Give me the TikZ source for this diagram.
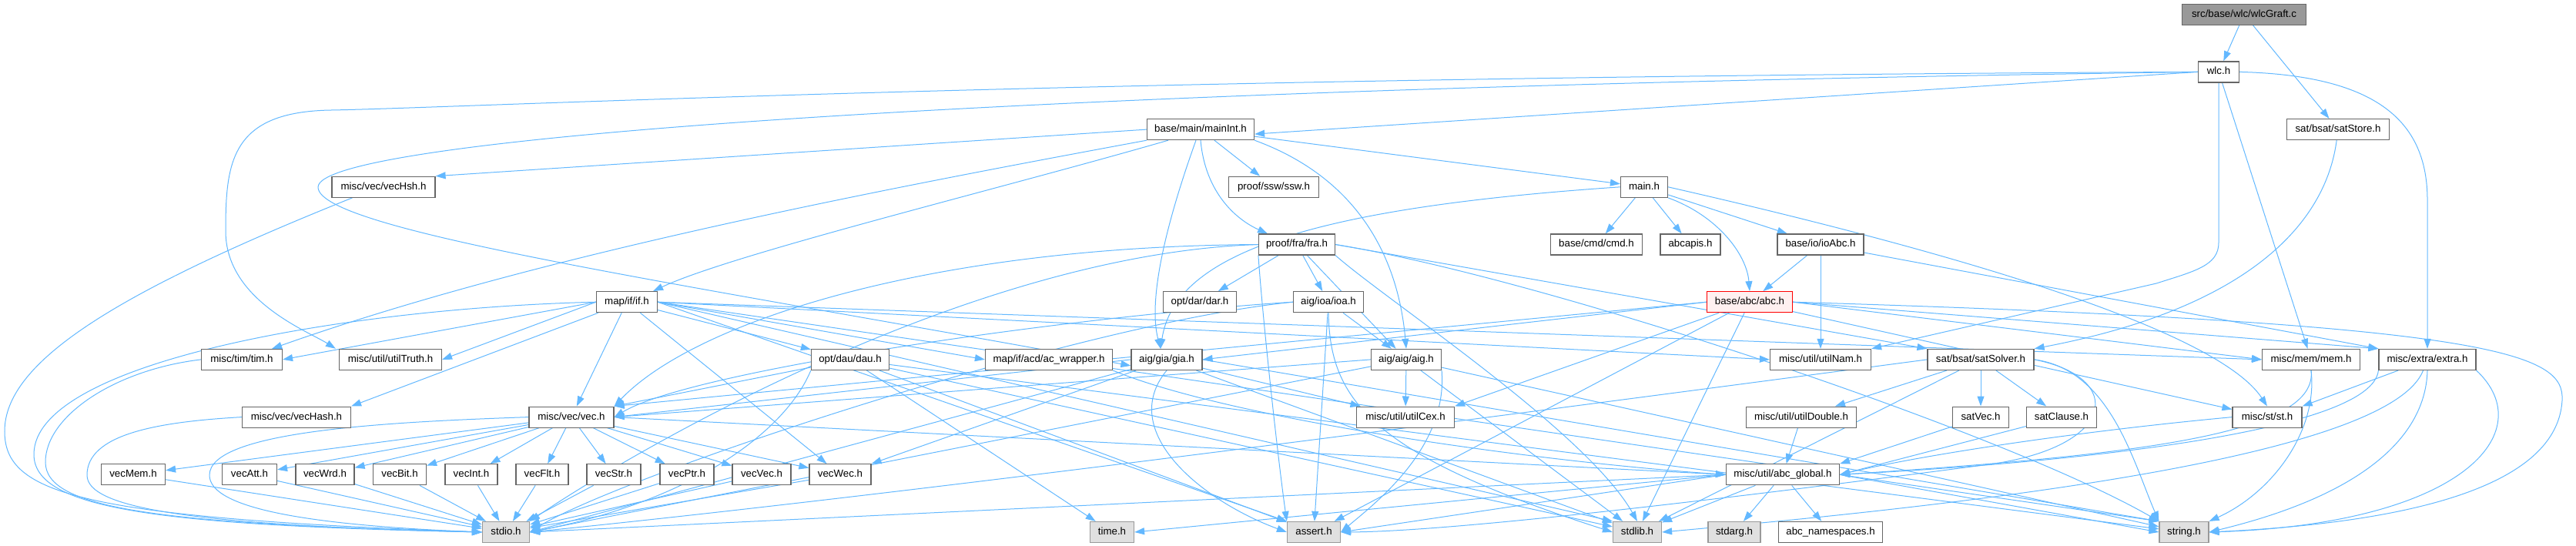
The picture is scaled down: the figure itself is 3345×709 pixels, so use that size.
\documentclass[tikz,border=0pt]{standalone}
\usepackage{fontspec}
\setmainfont{Liberation Sans}
\usetikzlibrary{arrows.meta}
\definecolor{edgeblue}{HTML}{63B8FF}
\definecolor{boxgray}{HTML}{666666}
\definecolor{sysfill}{HTML}{E0E0E0}
\definecolor{sysdraw}{HTML}{999999}
\definecolor{rootfill}{HTML}{999999}
\definecolor{truncfill}{HTML}{FFF0F0}
\pgfdeclarelayer{bg}
\pgfsetlayers{bg,main}
\newcommand\fsz{\fontsize{13.3}{15}\selectfont}
\begin{document}
\begin{tikzpicture}[x=1pt,y=-1pt,
  nd/.style={draw=boxgray, fill=white, line width=1.2pt, minimum height=27pt, inner xsep=1pt, inner ysep=0pt, font=\fsz, text height=9.6pt, text depth=2.7pt, text=black},
  wd/.style={minimum width=#1pt},
  sys/.style={fill=sysfill, draw=sysdraw},
  rootnd/.style={fill=rootfill, draw=boxgray},
  trunc/.style={fill=truncfill, draw=red},
  edge/.style={draw=edgeblue, line width=1pt, -{Triangle[length=13pt,width=9pt]}}]
\useasboundingbox (0,0) rectangle (3345,709);
% row 0-1
\node[nd,wd=161,rootnd] (wlcGraft) at (2914,18.7) {src/base/wlc/wlcGraft.c};
\node[nd,wd=53] (wlc) at (2881,93.4) {wlc.h};
% row 2
\node[nd,wd=139] (mainInt) at (1559,168.1) {base/main/mainInt.h};
\node[nd,wd=133] (satStore) at (3036,168.1) {sat/bsat/satStore.h};
% row 3
\node[nd,wd=134] (vecHsh) at (498,242.8) {misc/vec/vecHsh.h};
\node[nd,wd=117] (ssw) at (1654,242.8) {proof/ssw/ssw.h};
\node[nd,wd=61] (main) at (2135,242.8) {main.h};
% row 4
\node[nd,wd=99] (fra) at (1684,317.5) {proof/fra/fra.h};
\node[nd,wd=119] (cmd) at (2073,317.5) {base/cmd/cmd.h};
\node[nd,wd=78] (abcapis) at (2195,317.5) {abcapis.h};
\node[nd,wd=112] (ioAbc) at (2364,317.5) {base/io/ioAbc.h};
% row 5
\node[nd,wd=79] (ifh) at (814,392.2) {map/if/if.h};
\node[nd,wd=95] (dar) at (1558,392.2) {opt/dar/dar.h};
\node[nd,wd=91] (ioa) at (1725,392.2) {aig/ioa/ioa.h};
\node[nd,wd=111,trunc] (abc) at (2272,392.2) {base/abc/abc.h};
% row 6
\node[nd,wd=105] (tim) at (314,466.9) {misc/tim/tim.h};
\node[nd,wd=133] (utilTruth) at (507,466.9) {misc/util/utilTruth.h};
\node[nd,wd=101] (dau) at (1104,466.9) {opt/dau/dau.h};
\node[nd,wd=165] (acw) at (1362,466.9) {map/if/acd/ac\_wrapper.h};
\node[nd,wd=92] (gia) at (1515,466.9) {aig/gia/gia.h};
\node[nd,wd=91] (aig) at (1826,466.9) {aig/aig/aig.h};
\node[nd,wd=131] (utilNam) at (2364,466.9) {misc/util/utilNam.h};
\node[nd,wd=138] (satSolver) at (2572,466.9) {sat/bsat/satSolver.h};
\node[nd,wd=127] (mem) at (3001,466.9) {misc/mem/mem.h};
\node[nd,wd=126] (extra) at (3152,466.9) {misc/extra/extra.h};
% row 7
\node[nd,wd=141] (vecHash) at (385,541.6) {misc/vec/vecHash.h};
\node[nd,wd=110] (vec) at (742,541.6) {misc/vec/vec.h};
\node[nd,wd=127] (utilCex) at (1825,541.6) {misc/util/utilCex.h};
\node[nd,wd=143] (utilDouble) at (2339,541.6) {misc/util/utilDouble.h};
\node[nd,wd=73] (satVec) at (2572,541.6) {satVec.h};
\node[nd,wd=91] (satClause) at (2677,541.6) {satClause.h};
\node[nd,wd=90] (st) at (2944,541.6) {misc/st/st.h};
% row 8
\node[nd,wd=83] (vecMem) at (173,616.3) {vecMem.h};
\node[nd,wd=71] (vecAtt) at (324,616.3) {vecAtt.h};
\node[nd,wd=76] (vecWrd) at (422,616.3) {vecWrd.h};
\node[nd,wd=69] (vecBit) at (519,616.3) {vecBit.h};
\node[nd,wd=68] (vecInt) at (612,616.3) {vecInt.h};
\node[nd,wd=68] (vecFlt) at (704,616.3) {vecFlt.h};
\node[nd,wd=70] (vecStr) at (797,616.3) {vecStr.h};
\node[nd,wd=70] (vecPtr) at (892,616.3) {vecPtr.h};
\node[nd,wd=76] (vecVec) at (989,616.3) {vecVec.h};
\node[nd,wd=80] (vecWec) at (1091,616.3) {vecWec.h};
\node[nd,wd=147] (abcGlobal) at (2315,616.3) {misc/util/abc\_global.h};
% row 9
\node[nd,wd=61,sys] (stdio) at (657,691) {stdio.h};
\node[nd,wd=57,sys] (timeh) at (1444,691) {time.h};
\node[nd,wd=69,sys] (assert) at (1706,691) {assert.h};
\node[nd,wd=63,sys] (stdlib) at (2126,691) {stdlib.h};
\node[nd,wd=68,sys] (stdarg) at (2252,691) {stdarg.h};
\node[nd,wd=135] (abcNs) at (2377,691) {abc\_namespaces.h};
\node[nd,wd=64,sys] (string) at (2836,691) {string.h};

\begin{pgfonlayer}{bg}
% top
\draw[edge] (wlcGraft) -- (wlc);
\draw[edge] (wlcGraft) -- (satStore);
\draw[edge] (wlc.west) -- ([yshift=-6pt]mainInt.east);
\draw[edge] (wlc.west) .. controls (1300,115) and (413,180) .. (413,243) .. controls (413,300) and (900,370) .. ([yshift=-8pt]gia.west);
\draw[edge] (wlc.west) .. controls (1400,100) and (600,140) .. (430,143) .. controls (300,145) and (293,210) .. (293,300) .. controls (293,390) and (400,430) .. ([xshift=-4pt]utilTruth.north west);
\draw[edge] (wlc.south) -- (2881,315) .. controls (2881,345) and (2850,352) .. (2800,368) -- (utilNam.north east);
\draw[edge] (wlc) -- (mem);
\draw[edge] (wlc.east) .. controls (3090,98) and (3152,160) .. (3152,260) -- (extra);
\draw[edge] (satStore) .. controls (3020,290) and (2920,400) .. (satSolver.north east);
% mainInt
\draw[edge] (mainInt) -- (main);
\draw[edge] (mainInt) -- (ssw);
\draw[edge] (mainInt.south) .. controls (1565,250) and (1605,285) .. ([xshift=-38pt]fra.north);
\draw[edge] (mainInt.west) -- (vecHsh.north east);
\draw[edge] (mainInt.south west) .. controls (1150,245) and (700,330) .. ([xshift=-14pt]tim.north east);
\draw[edge] ([xshift=28pt]mainInt.south west) .. controls (1300,245) and (950,330) .. ([xshift=-6pt]ifh.north east);
\draw[edge] ([xshift=-6pt]mainInt.south) .. controls (1525,260) and (1488,380) .. ([xshift=-8pt]gia.north);
\draw[edge] (mainInt.south east) .. controls (1760,230) and (1815,330) .. (aig.north);
% main
\draw[edge] (main) -- (cmd);
\draw[edge] (main) -- (abcapis);
\draw[edge] (main) -- (ioAbc);
\draw[edge] (main.south east) .. controls (2230,280) and (2268,330) .. (abc.north);
\draw[edge] (main.west) .. controls (1700,270) and (1525,330) .. ([xshift=-8pt]gia.north);
\draw[edge] (main.east) .. controls (2550,330) and (2880,430) .. (st.north);
% fra
\draw[edge] (fra) -- (dar);
\draw[edge] (fra) -- (ioa);
\draw[edge] (fra) -- (aig);
\draw[edge] (fra.east) -- (satSolver.north west);
\draw[edge] (fra.south east) .. controls (1800,390) and (2060,560) .. (stdlib.north);
\draw[edge] (fra.east) .. controls (2000,360) and (2600,560) .. (string.north west);
\draw[edge] (fra.west) .. controls (1200,320) and (900,420) .. (vec.north east);
\draw[edge] (fra.south west) .. controls (1640,420) and (1660,600) .. (assert.north west);
\draw[edge] (fra.west) .. controls (1250,330) and (800,600) .. (stdio.north east);
% ioAbc
\draw[edge] (ioAbc) -- (abc);
\draw[edge] (ioAbc) -- (utilNam);
\draw[edge] (ioAbc) -- (extra.north west);
% ioa
\draw[edge] (ioa) -- (aig);
\draw[edge] (ioa) -- (assert);
\draw[edge] (ioa.south) .. controls (1727,520) and (1780,590) .. (stdlib.west);
\draw[edge] (ioa.west) .. controls (1400,410) and (900,480) .. (vec.east);
\draw[edge] (ioa.west) .. controls (1400,420) and (800,620) .. (stdio.east);
% if
\draw[edge] (ifh.west) -- (tim.east);
\draw[edge] (ifh.west) -- (utilTruth.east);
\draw[edge] (ifh) -- (vecHash.north east);
\draw[edge] (ifh) -- (vec);
\draw[edge] (ifh) -- (vecWec);
\draw[edge] (ifh) -- (dau);
\draw[edge] (ifh.east) -- (acw.west);
\draw[edge] (ifh.east) -- (mem.west);
\draw[edge] (ifh.east) -- (utilNam.west);
\draw[edge] (ifh.east) -- (stdlib.north west);
\draw[edge] (ifh.east) -- (string.north west);
\draw[edge] (ifh.east) -- (assert.north west);
\draw[edge] (ifh.west) .. controls (450,400) and (44,470) .. (44,590) .. controls (44,660) and (200,682) .. (stdio.west);
% dau
\draw[edge] (dau) -- (vec.north east);
\draw[edge] (dau) -- (timeh);
\draw[edge] (dau) -- (assert);
\draw[edge] (dau) -- (stdlib);
\draw[edge] (dau) -- (string);
\draw[edge] (dau.south west) .. controls (1020,560) and (900,650) .. (stdio.east);
% acw
\draw[edge] (acw.south east) .. controls (1600,545) and (2000,600) .. (abcGlobal.west);
% gia
\draw[edge] (gia.west) -- (vec.east);
\draw[edge] (gia) -- (vecWec.north east);
\draw[edge] (gia) -- (utilCex);
\draw[edge] (gia.south) .. controls (1450,560) and (1560,650) .. (assert.west);
\draw[edge] (gia) -- (stdlib);
\draw[edge] (gia.east) -- (string.north west);
\draw[edge] (gia) -- (stdio.east);
% aig
\draw[edge] (aig) -- (utilCex);
\draw[edge] (aig.west) -- (vec.east);
\draw[edge] (aig) -- (stdio.east);
\draw[edge] (aig) -- (stdlib);
\draw[edge] (aig) -- (string);
\draw[edge] (aig.south east) .. controls (1880,580) and (1790,650) .. (assert.east);
% abc
\draw[edge] (abc.west) -- (gia.east);
\draw[edge] (abc.west) -- (vec.north east);
\draw[edge] (abc) -- (st);
\draw[edge] (abc.east) -- (mem.west);
\draw[edge] (abc.east) -- (extra.north west);
\draw[edge] (abc) -- (utilCex.north east);
\draw[edge] (abc.east) .. controls (3250,420) and (3330,460) .. (3327,520) .. controls (3320,640) and (3100,680) .. (string.east);
\draw[edge] (abc) -- (stdlib);
\draw[edge] (abc) -- (assert);
% satSolver
\draw[edge] (satSolver) -- (satVec);
\draw[edge] (satSolver) -- (satClause);
\draw[edge] (satSolver) -- (utilDouble);
\draw[edge] (satSolver.west) .. controls (2100,520) and (1200,640) .. (stdio.east);
\draw[edge] (satSolver) -- (stdlib);
\draw[edge] (satSolver.east) .. controls (2760,490) and (2750,580) .. (2583,603) .. controls (2300,640) and (1900,690) .. (assert.east);
\draw[edge] (satSolver.east) .. controls (2740,480) and (2770,600) .. (string.north west);
% to abcGlobal
\draw[edge] (utilDouble) -- (abcGlobal);
\draw[edge] (satVec) -- (abcGlobal.north east);
\draw[edge] (satClause) -- (abcGlobal.east);
\draw[edge] (st.west) .. controls (2700,560) and (2500,590) .. (abcGlobal.east);
\draw[edge] (mem.south) .. controls (3010,560) and (2800,590) .. (abcGlobal.east);
\draw[edge] (mem.south) .. controls (3010,560) and (2950,640) .. (string.north east);
% extra
\draw[edge] (extra) -- (st.north east);
\draw[edge] (extra.south west) .. controls (3080,560) and (2700,600) .. (abcGlobal.east);
\draw[edge] (extra.south) .. controls (3150,560) and (3080,640) .. (string.east);
\draw[edge] (extra.south east) .. controls (3300,560) and (3200,680) .. (string.east);
\draw[edge] (extra) .. controls (3100,600) and (2500,660) .. (stdlib.east);
% abcGlobal
\draw[edge] (abcGlobal) -- (stdarg);
\draw[edge] (abcGlobal) -- (abcNs);
\draw[edge] (abcGlobal.west) -- (stdio.east);
\draw[edge] (abcGlobal) -- (stdlib);
\draw[edge] (abcGlobal.east) -- (string.west);
\draw[edge] (abcGlobal.west) -- (assert.east);
\draw[edge] (abcGlobal.west) -- (timeh.east);
% vec
\foreach \t in {vecMem,vecAtt,vecWrd,vecBit,vecInt,vecFlt,vecStr,vecPtr,vecVec,vecWec} {
  \draw[edge] (vec) -- (\t);
  \draw[edge] (\t) -- (stdio);
}
\draw[edge] (vec.east) -- (abcGlobal.west);
\draw[edge] (vec.west) .. controls (500,548) and (272,560) .. (272,617) .. controls (272,660) and (400,682) .. (stdio.west);
% loops into stdio
\draw[edge] ([xshift=27pt]vecHsh.south west) .. controls (150,380) and (6,470) .. (6,560) .. controls (6,640) and (100,672) .. (stdio.west);
\draw[edge] (tim.west) .. controls (150,480) and (59,540) .. (59,600) .. controls (59,660) and (200,680) .. (stdio.west);
\draw[edge] (vecHash.west) .. controls (200,548) and (113,565) .. (113,617) .. controls (113,660) and (250,682) .. (stdio.west);
\end{pgfonlayer}
\end{tikzpicture}
\end{document}
